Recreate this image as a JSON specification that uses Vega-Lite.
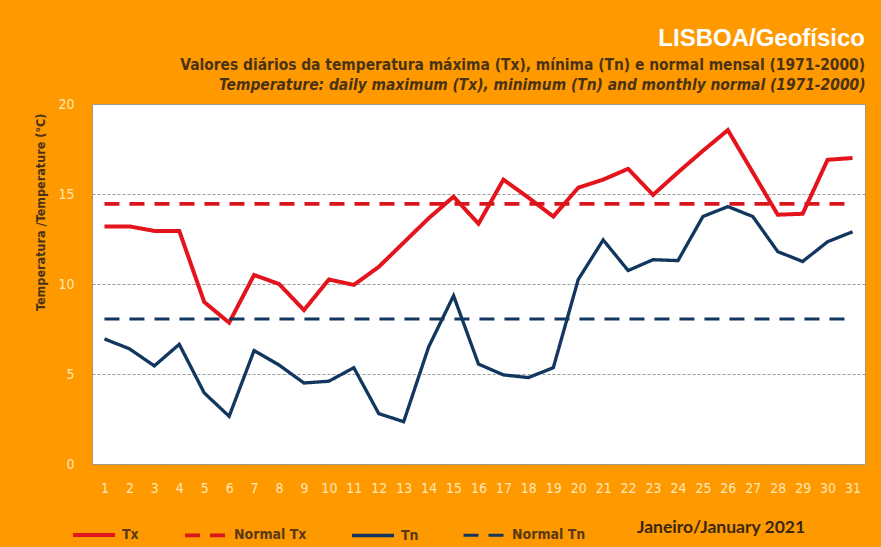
{
  "$schema": "https://vega.github.io/schema/vega-lite/v6.json",
  "width": 773,
  "height": 360,
  "autosize": {"type": "none"},
  "padding": {"left": 92, "top": 104, "right": 16, "bottom": 83},
  "background": "#FF9900",
  "config": {
    "view": {"fill": "white", "stroke": "#A8957A", "strokeWidth": 1},
    "font": "DejaVu Sans Condensed"
  },
  "title": {
    "text": "LISBOA/Geofísico",
    "subtitle": "Valores diários da temperatura máxima (Tx), mínima (Tn) e normal mensal  (1971-2000)",
    "anchor": "end",
    "font": "Liberation Sans",
    "fontSize": 24,
    "fontWeight": "bold",
    "color": "white",
    "subtitleFont": "DejaVu Sans Condensed",
    "subtitleFontSize": 15.4,
    "subtitleFontWeight": "bold",
    "subtitleColor": "#4A3214",
    "subtitlePadding": 7,
    "offset": 4
  },
  "data": {
    "values": [
      {"day": 1, "series": "Tx", "value": 13.2},
      {"day": 2, "series": "Tx", "value": 13.2},
      {"day": 3, "series": "Tx", "value": 12.95},
      {"day": 4, "series": "Tx", "value": 12.95},
      {"day": 5, "series": "Tx", "value": 9.0},
      {"day": 6, "series": "Tx", "value": 7.85},
      {"day": 7, "series": "Tx", "value": 10.5},
      {"day": 8, "series": "Tx", "value": 10.0},
      {"day": 9, "series": "Tx", "value": 8.55},
      {"day": 10, "series": "Tx", "value": 10.25},
      {"day": 11, "series": "Tx", "value": 9.95},
      {"day": 12, "series": "Tx", "value": 10.95},
      {"day": 13, "series": "Tx", "value": 12.3},
      {"day": 14, "series": "Tx", "value": 13.65},
      {"day": 15, "series": "Tx", "value": 14.85},
      {"day": 16, "series": "Tx", "value": 13.35},
      {"day": 17, "series": "Tx", "value": 15.8},
      {"day": 18, "series": "Tx", "value": 14.8},
      {"day": 19, "series": "Tx", "value": 13.75},
      {"day": 20, "series": "Tx", "value": 15.35},
      {"day": 21, "series": "Tx", "value": 15.8},
      {"day": 22, "series": "Tx", "value": 16.4},
      {"day": 23, "series": "Tx", "value": 14.95},
      {"day": 24, "series": "Tx", "value": 16.2},
      {"day": 25, "series": "Tx", "value": 17.4},
      {"day": 26, "series": "Tx", "value": 18.55},
      {"day": 27, "series": "Tx", "value": 16.2},
      {"day": 28, "series": "Tx", "value": 13.85},
      {"day": 29, "series": "Tx", "value": 13.9},
      {"day": 30, "series": "Tx", "value": 16.9},
      {"day": 31, "series": "Tx", "value": 17.0},
      {"day": 1, "series": "Tn", "value": 6.95},
      {"day": 2, "series": "Tn", "value": 6.4},
      {"day": 3, "series": "Tn", "value": 5.45},
      {"day": 4, "series": "Tn", "value": 6.65},
      {"day": 5, "series": "Tn", "value": 3.95},
      {"day": 6, "series": "Tn", "value": 2.65},
      {"day": 7, "series": "Tn", "value": 6.3},
      {"day": 8, "series": "Tn", "value": 5.5},
      {"day": 9, "series": "Tn", "value": 4.5},
      {"day": 10, "series": "Tn", "value": 4.6},
      {"day": 11, "series": "Tn", "value": 5.35},
      {"day": 12, "series": "Tn", "value": 2.8},
      {"day": 13, "series": "Tn", "value": 2.35},
      {"day": 14, "series": "Tn", "value": 6.5},
      {"day": 15, "series": "Tn", "value": 9.35},
      {"day": 16, "series": "Tn", "value": 5.55},
      {"day": 17, "series": "Tn", "value": 4.95},
      {"day": 18, "series": "Tn", "value": 4.8},
      {"day": 19, "series": "Tn", "value": 5.35},
      {"day": 20, "series": "Tn", "value": 10.25},
      {"day": 21, "series": "Tn", "value": 12.45},
      {"day": 22, "series": "Tn", "value": 10.75},
      {"day": 23, "series": "Tn", "value": 11.35},
      {"day": 24, "series": "Tn", "value": 11.3},
      {"day": 25, "series": "Tn", "value": 13.75},
      {"day": 26, "series": "Tn", "value": 14.3},
      {"day": 27, "series": "Tn", "value": 13.75},
      {"day": 28, "series": "Tn", "value": 11.8},
      {"day": 29, "series": "Tn", "value": 11.25},
      {"day": 30, "series": "Tn", "value": 12.35},
      {"day": 31, "series": "Tn", "value": 12.9},
      {"day": 1, "series": "Normal Tx", "value": 14.45},
      {"day": 31, "series": "Normal Tx", "value": 14.45},
      {"day": 1, "series": "Normal Tn", "value": 8.05},
      {"day": 31, "series": "Normal Tn", "value": 8.05}
    ]
  },
  "resolve": {"axis": {"x": "independent"}},
  "layer": [
    {
      "mark": {"type": "line", "strokeCap": "butt", "strokeJoin": "miter"},
      "encoding": {
        "x": {
          "field": "day",
          "type": "ordinal",
          "scale": {"type": "point", "padding": 0.5},
          "axis": {
            "title": null,
            "labelAngle": 0,
            "ticks": false,
            "domain": false,
            "labelPadding": 17,
            "labelFontSize": 14,
            "labelColor": "#FFE6B8",
            "labelFont": "DejaVu Sans Condensed"
          }
        },
        "y": {
          "field": "value",
          "type": "quantitative",
          "scale": {"domain": [0, 20], "nice": false},
          "axis": {
            "values": [0, 5, 10, 15, 20],
            "title": "Temperatura /Temperature (°C)",
            "titleFont": "DejaVu Sans Condensed",
            "titleFontSize": 12.5,
            "titleFontWeight": "bold",
            "titleColor": "#4A3214",
            "titleAnchor": "end",
            "titleX": -45,
            "titleY": 9,
            "ticks": false,
            "domain": false,
            "labelPadding": 18,
            "labelFontSize": 14,
            "labelColor": "#FFE6B8",
            "labelFont": "DejaVu Sans Condensed",
            "grid": true,
            "gridColor": "#9A9A9A",
            "gridDash": [3, 2],
            "gridWidth": 1
          }
        },
        "detail": {"field": "series"},
        "color": {
          "field": "series",
          "type": "nominal",
          "scale": {
            "domain": ["Tx", "Normal Tx", "Tn", "Normal Tn"],
            "range": ["#E3141C", "#D9161D", "#12375F", "#12375F"]
          },
          "legend": {
            "orient": "none",
            "direction": "horizontal",
            "legendX": -21,
            "legendY": 408,
            "title": "Janeiro/January 2021",
            "titleOrient": "right",
            "titleFont": "Lato",
            "titleFontSize": 17.5,
            "titleFontWeight": "bold",
            "titleColor": "#3A2810",
            "titlePadding": 52,
            "titleBaseline": "middle",
            "symbolType": "stroke",
            "symbolSize": 1764,
            "symbolStrokeWidth": 3,
            "labelFont": "DejaVu Sans Condensed",
            "labelFontSize": 14,
            "labelFontWeight": "bold",
            "labelColor": "#5A3A14",
            "labelOffset": 5,
            "columnPadding": 38
          }
        },
        "strokeDash": {
          "field": "series",
          "type": "nominal",
          "scale": {
            "domain": ["Tx", "Normal Tx", "Tn", "Normal Tn"],
            "range": [[1, 0], [15, 10], [1, 0], [15, 10]]
          },
          "legend": {
            "orient": "none",
            "direction": "horizontal",
            "legendX": -21,
            "legendY": 408,
            "title": "Janeiro/January 2021"
          }
        },
        "strokeWidth": {
          "field": "series",
          "type": "nominal",
          "scale": {
            "domain": ["Tx", "Normal Tx", "Tn", "Normal Tn"],
            "range": [4, 3, 4, 3]
          },
          "legend": null
        }
      }
    },
    {
      "mark": {"type": "point", "opacity": 0},
      "encoding": {
        "x": {
          "field": "day",
          "type": "ordinal",
          "axis": {
            "orient": "top",
            "labels": false,
            "ticks": false,
            "domain": false,
            "title": "Temperature: daily maximum  (Tx), minimum (Tn) and  monthly normal  (1971-2000)",
            "titleAnchor": "end",
            "titleFont": "DejaVu Sans Condensed",
            "titleFontSize": 15.4,
            "titleFontWeight": "bold",
            "titleFontStyle": "italic",
            "titleColor": "#4A3214",
            "titlePadding": 12
          }
        },
        "y": {"field": "value", "type": "quantitative"}
      }
    }
  ]
}
